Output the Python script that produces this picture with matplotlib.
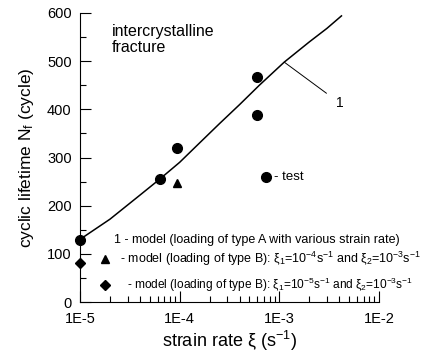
import matplotlib
matplotlib.use("Agg")
import matplotlib.pyplot as plt
from matplotlib.ticker import FixedLocator, FixedFormatter, LogLocator, NullFormatter, MultipleLocator

plt.rcParams["font.family"] = ["Liberation Sans", "DejaVu Sans"]
plt.rcParams["mathtext.fontset"] = "custom"
plt.rcParams["mathtext.rm"] = "Liberation Sans"
plt.rcParams["mathtext.it"] = "Liberation Sans"

# test points
test_rate = [1e-5, 6.3e-5, 9.3e-5, 6.0e-4, 6.0e-4]
test_life = [128, 256, 320, 468, 389]

# model curve (type A)
model_rate = [1e-5, 2e-5, 4e-5, 6.3e-5, 1e-4, 1.58e-4, 2.5e-4, 4e-4, 6.3e-4, 1.12e-3, 2e-3, 3e-3, 4.2e-3]
model_life = [130, 172, 222, 255, 290, 330, 370, 410, 450, 498, 540, 568, 594]

# model type B
tri_rate, tri_life = [9.5e-5], [247]
dia_rate, dia_life = [1e-5], [80]

xticks = [1e-5, 1e-4, 1e-3, 1e-2]
xlabels = ["1E-5", "1E-4", "1E-3", "1E-2"]

fig = plt.figure(figsize=(4.27, 3.56), dpi=100)
ax = fig.add_axes([80 / 427, 1 - 302 / 356, 299 / 427, 289 / 356])

ax.plot(model_rate, model_life, color="black", lw=1.1)
ax.plot(test_rate, test_life, "o", color="black", ms=7, clip_on=False)
ax.plot(tri_rate, tri_life, "^", color="black", ms=6)
ax.plot(dia_rate, dia_life, "D", color="black", ms=5, clip_on=False)

ax.set_xscale("log")
ax.set_xlim(1e-5, 1e-2)
ax.set_ylim(0, 600)
ax.xaxis.set_major_locator(FixedLocator(xticks))
ax.xaxis.set_major_formatter(FixedFormatter(xlabels))
ax.xaxis.set_minor_locator(LogLocator(base=10, subs=range(2, 10)))
ax.xaxis.set_minor_formatter(NullFormatter())
ax.yaxis.set_major_locator(MultipleLocator(100))
ax.yaxis.set_minor_locator(MultipleLocator(50))

ax.spines["top"].set_visible(False)
ax.spines["right"].set_visible(False)
ax.tick_params(which="both", direction="in", labelsize=10.5, width=0.8)
ax.tick_params(which="major", length=8)
ax.tick_params(which="minor", length=4)
ax.tick_params(axis="x", pad=7)
ax.tick_params(axis="y", pad=6)

ax.set_xlabel(r"strain rate $\xi$ (s$^{-1}$)", fontsize=13, labelpad=2)
ax.set_ylabel(r"cyclic lifetime N$_\mathrm{f}$ (cycle)", fontsize=12.5, labelpad=8)

ax.text(2.1e-5, 545, "intercrystalline\nfracture", fontsize=11.5, va="center", linespacing=1.15)

# leader to curve label 1
ax.annotate("1", xy=(1.12e-3, 498), xytext=(3.7e-3, 413), fontsize=10, va="center",
            arrowprops=dict(arrowstyle="-", color="black", lw=0.7, shrinkB=0, shrinkA=6))

ax.plot([7.4e-4], [259], "o", color="black", ms=7)
ax.text(8.9e-4, 259, "- test", fontsize=9.5, va="center")

ax.text(2.2e-5, 129, "1 - model (loading of type A with various strain rate)", fontsize=9, va="center")
ax.plot([1.8e-5], [89], "^", color="black", ms=5.5, clip_on=False)
ax.text(2.5e-5, 89,
        r"- model (loading of type B): $\xi_1$=10$^{-4}$s$^{-1}$ and $\xi_2$=10$^{-3}$s$^{-1}$",
        fontsize=9, va="center")
ax.plot([1.8e-5], [35], "D", color="black", ms=5, clip_on=False)
ax.text(2.95e-5, 35,
        r"- model (loading of type B): $\xi_1$=10$^{-5}$s$^{-1}$ and $\xi_2$=10$^{-3}$s$^{-1}$",
        fontsize=8.6, va="center")

fig.savefig("out.png", dpi=100)
